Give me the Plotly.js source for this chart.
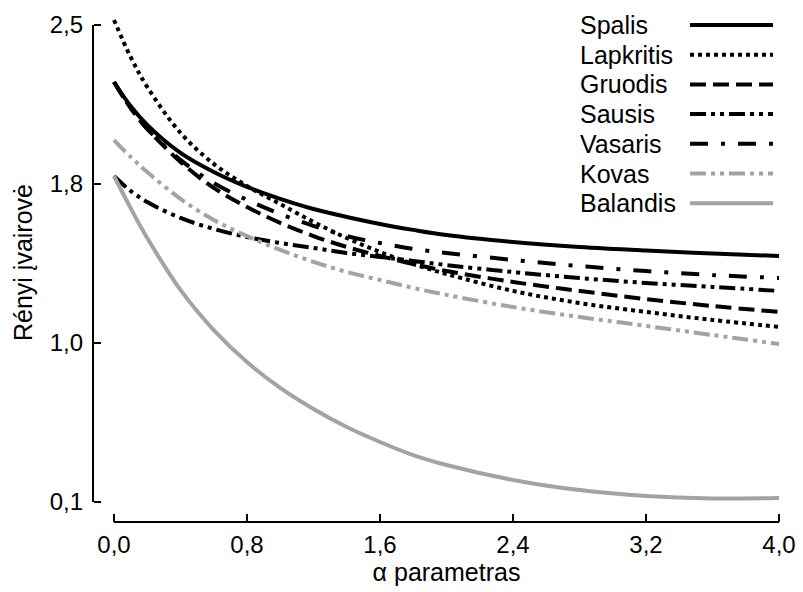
<!DOCTYPE html>
<html>
<head>
<meta charset="utf-8">
<script src="https://cdn.plot.ly/plotly-3.0.1.min.js"></script>
<style>html,body{margin:0;padding:0;background:#fff;}#chart{width:803px;height:592px;}</style>
</head>
<body>
<div id="chart"></div>
<script>
// ---- data ----
const alpha = [0, 0.1, 0.2, 0.4, 0.6, 0.8, 1.0, 1.2, 1.4, 1.6, 1.8, 2.0, 2.4, 2.8, 3.2, 3.6, 4.0];
const spalis    = [2.213, 2.092, 1.997, 1.856, 1.760, 1.685, 1.625, 1.574, 1.534, 1.499, 1.469, 1.443, 1.408, 1.383, 1.365, 1.350, 1.338];
const lapkritis = [2.525, 2.339, 2.188, 1.957, 1.801, 1.690, 1.599, 1.509, 1.428, 1.358, 1.297, 1.247, 1.162, 1.101, 1.056, 1.016, 0.981];
const gruodis   = [2.213, 2.082, 1.977, 1.811, 1.680, 1.584, 1.504, 1.438, 1.383, 1.338, 1.297, 1.262, 1.207, 1.162, 1.121, 1.086, 1.056];
const sausis    = [1.740, 1.665, 1.609, 1.529, 1.474, 1.433, 1.403, 1.378, 1.353, 1.333, 1.313, 1.292, 1.257, 1.227, 1.202, 1.182, 1.162];
const vasaris   = [2.213, 2.082, 1.977, 1.821, 1.705, 1.620, 1.549, 1.489, 1.438, 1.403, 1.373, 1.353, 1.318, 1.287, 1.262, 1.242, 1.227];
const kovas     = [1.921, 1.836, 1.760, 1.625, 1.519, 1.438, 1.368, 1.308, 1.257, 1.217, 1.177, 1.142, 1.081, 1.031, 0.986, 0.940, 0.895];
const balandis  = [1.740, 1.579, 1.428, 1.167, 0.965, 0.804, 0.674, 0.568, 0.477, 0.402, 0.336, 0.286, 0.211, 0.160, 0.130, 0.118, 0.120];

const seriesNames = ['Spalis', 'Lapkritis', 'Gruodis', 'Sausis', 'Vasaris', 'Kovas', 'Balandis'];
const seriesData = [spalis, lapkritis, gruodis, sausis, vasaris, kovas, balandis];

const xTickVals = [0, 0.8, 1.6, 2.4, 3.2, 4.0];
const xTickText = ['0,0', '0,8', '1,6', '2,4', '3,2', '4,0'];
const yTickVals = [0.1, 0.9, 1.7, 2.5];
const yTickText = ['0,1', '1,0', '1,8', '2,5'];

// ---- styles ----
const BLACK = '#000000', GRAY = '#a3a3a3';
const styles = [
  {color: BLACK, dash: 'solid', width: 4},
  {color: BLACK, dash: '4px,4px', width: 4},
  {color: BLACK, dash: '16px,7px', width: 4},
  {color: BLACK, dash: '16px,5px,4px,5px,4px,5px', width: 4},
  {color: BLACK, dash: '18px,13px,4px,13px', width: 4},
  {color: GRAY, dash: '16px,5px,4px,5px,4px,5px', width: 4},
  {color: GRAY, dash: 'solid', width: 4}
];

const W = 803, H = 592;
const PX = v => v / W;
const PY = v => 1 - v / H;
const FONT = 'Liberation Sans, Arial, Helvetica, sans-serif';

const traces = seriesNames.map((n, i) => ({
  type: 'scatter', mode: 'lines', name: n,
  x: alpha, y: seriesData[i],
  line: {color: styles[i].color, dash: styles[i].dash, width: styles[i].width, shape: 'spline', smoothing: 1},
  showlegend: false, hoverinfo: 'skip'
}));

const shapes = [
  {type: 'line', xref: 'paper', yref: 'y', x0: PX(93), x1: PX(93), y0: yTickVals[0], y1: yTickVals[yTickVals.length - 1],
   line: {color: BLACK, width: 2}},
  {type: 'line', xref: 'x', yref: 'paper', x0: xTickVals[0], x1: xTickVals[xTickVals.length - 1], y0: PY(522), y1: PY(522),
   line: {color: BLACK, width: 2}}
];
const annotations = [
  {xref: 'paper', yref: 'paper', x: PX(23), y: PY(263), text: 'Rényi įvairovė', textangle: -90, showarrow: false,
   xanchor: 'center', yanchor: 'middle', font: {family: FONT, size: 25, color: BLACK}}
];
// custom legend: text left, line sample right
seriesNames.forEach((n, i) => {
  const yc = 25 + i * 29.7;
  annotations.push({xref: 'paper', yref: 'paper', x: PX(578), y: PY(yc), text: n, showarrow: false,
    xanchor: 'left', yanchor: 'middle', font: {family: FONT, size: 25, color: BLACK}});
  shapes.push({type: 'line', xref: 'paper', yref: 'paper', x0: PX(690), x1: PX(773), y0: PY(yc), y1: PY(yc),
    line: {color: styles[i].color, dash: styles[i].dash, width: styles[i].width}});
});

const layout = {
  width: W, height: H,
  margin: {l: 0, r: 0, t: 0, b: 0},
  paper_bgcolor: '#ffffff', plot_bgcolor: '#ffffff',
  font: {family: FONT, color: BLACK},
  showlegend: false,
  xaxis: {
    domain: [PX(109), PX(784)], range: [-0.03, 4.03], anchor: 'free', position: PY(522),
    showline: false, showgrid: false, zeroline: false,
    ticks: 'inside', ticklen: 8, tickwidth: 2, tickcolor: BLACK,
    tickmode: 'array', tickvals: xTickVals, ticktext: xTickText,
    tickfont: {family: FONT, size: 24, color: BLACK}, ticklabelstandoff: 6,
    title: {text: 'α parametras', font: {family: FONT, size: 25, color: BLACK}, standoff: 4}
  },
  yaxis: {
    domain: [PY(506), PY(13)], range: [0.08, 2.56], anchor: 'free', position: PX(93),
    showline: false, showgrid: false, zeroline: false,
    ticks: 'inside', ticklen: 7, tickwidth: 2, tickcolor: BLACK,
    tickmode: 'array', tickvals: yTickVals, ticktext: yTickText,
    tickfont: {family: FONT, size: 24, color: BLACK}, ticklabelstandoff: 10
  },
  shapes: shapes,
  annotations: annotations
};

Plotly.newPlot('chart', traces, layout, {displayModeBar: false, staticPlot: true});
</script>
</body>
</html>
